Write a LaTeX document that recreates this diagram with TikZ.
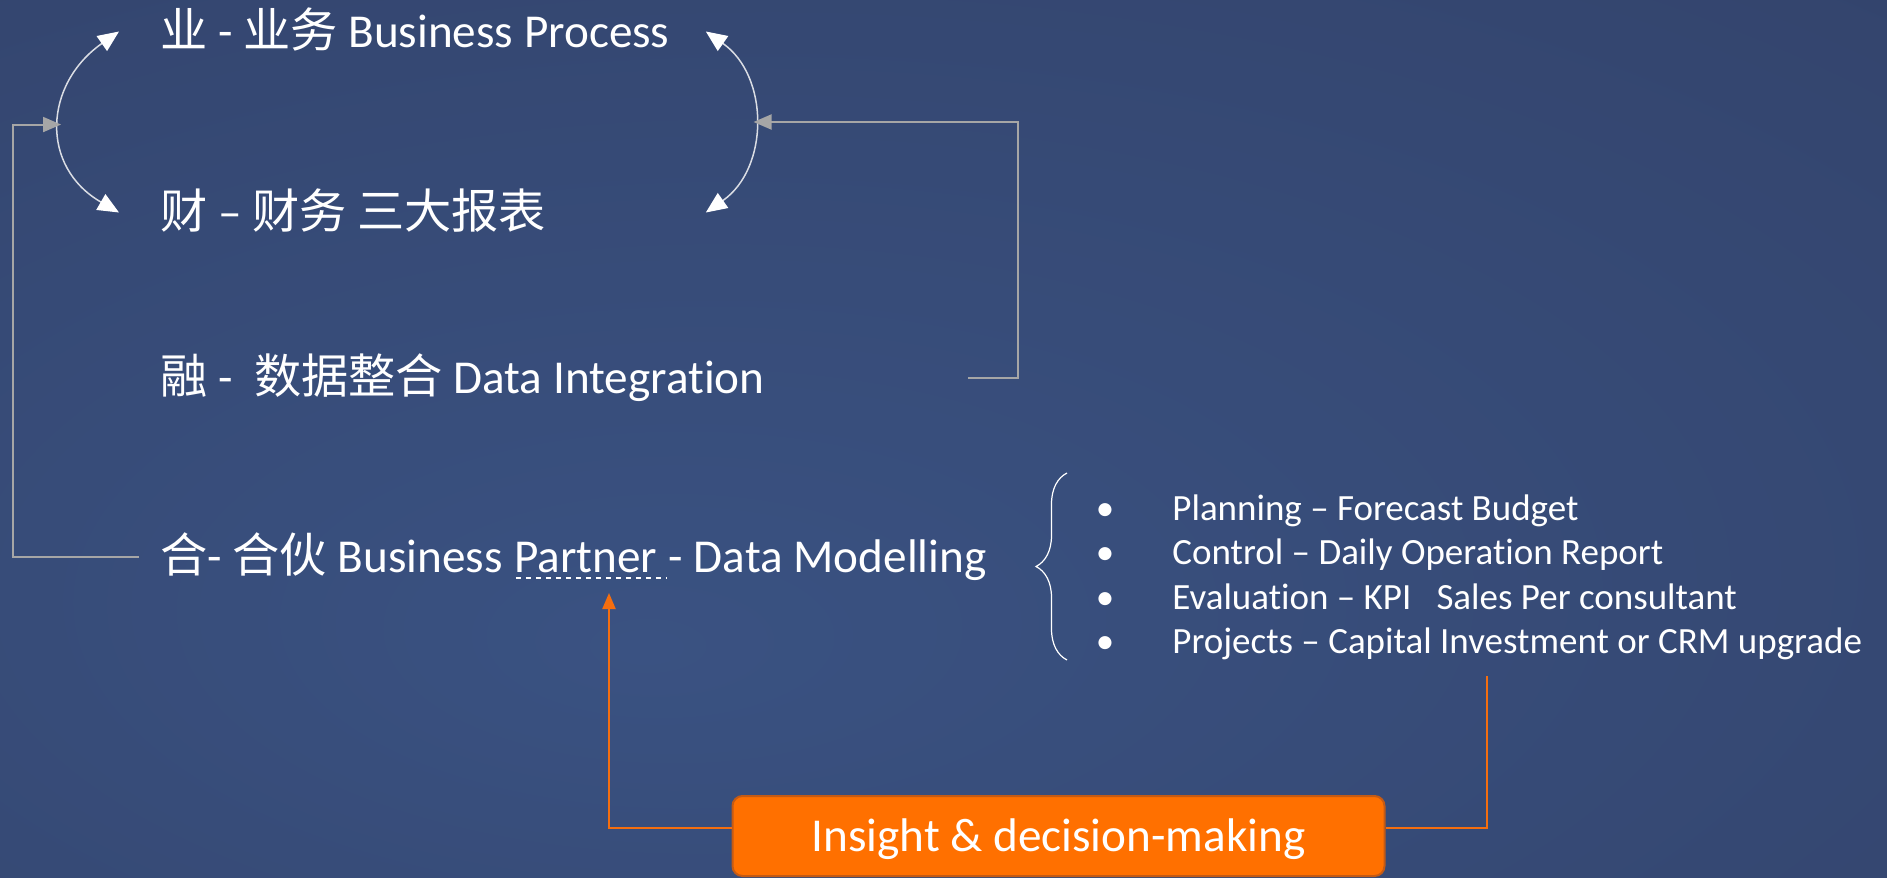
\documentclass[tikz,border=0pt]{standalone}
\usepackage{fontspec}
\setmainfont{Carlito}[Ligatures=NoCommon]
\newfontfamily\cjk{Noto Sans CJK SC}
\usetikzlibrary{arrows.meta,decorations.pathreplacing}
\definecolor{bgin}{RGB}{58,82,130}
\definecolor{bgout}{RGB}{44,53,86}
\definecolor{wiregray}{RGB}{166,166,166}
\definecolor{curvewhite}{RGB}{218,221,228}
\definecolor{orline}{RGB}{245,110,15}
\definecolor{orfill}{RGB}{255,112,0}
\definecolor{oredge}{RGB}{196,90,20}
\pgfdeclareradialshading{slidebg}{\pgfpoint{-8bp}{-12bp}}{color(0bp)=(bgin); color(40bp)=(bgin!55!bgout); color(75bp)=(bgout)}
\begin{document}
\begin{tikzpicture}[x=0.5pt,y=0.5pt]
\tikzstyle{every node}+=[inner sep=0pt, text=white]
\tikzstyle{bigtext}=[anchor=base west, font=\fontsize{23.6}{28}\selectfont, text height=19pt, text depth=3.5pt]
\tikzstyle{listtext}=[anchor=base west, font=\fontsize{18.5}{22}\selectfont]
\tikzstyle{listdot}=[anchor=base, font=\fontsize{18.5}{22}\selectfont]
\tikzstyle{insightbox}=[fill=orfill, draw=oredge, line width=1pt, rounded corners=5pt, minimum width=326pt, minimum height=40pt, font=\fontsize{23.6}{28}\selectfont, text height=15.2pt, text depth=0pt]
\tikzstyle{curvearr}=[draw=curvewhite, line width=0.75pt, {Triangle[length=10.5pt,width=9pt,color=white,fill=white]}-{Triangle[length=10.5pt,width=9pt,color=white,fill=white]}]
\tikzstyle{grayarr}=[draw=wiregray, line width=1pt, -{Triangle[length=9pt,width=7.5pt]}]
\tikzstyle{orangearr}=[draw=orline, line width=1.1pt, -{Triangle[length=8pt,width=6.5pt]}]
\tikzstyle{orangewire}=[draw=orline, line width=1.1pt]
\tikzstyle{dashunder}=[draw=white, line width=1pt, dash pattern=on 2.6pt off 2.4pt]
\tikzstyle{bracestyle}=[draw=white, line width=0.6pt, decorate, decoration={brace, amplitude=15.5pt}]
\shade[shading=slidebg] (0,0) rectangle (1887,-878);
\node[bigtext] (biz) at (160,-47) {{\cjk 业} - {\cjk 业务} Business Process};
\node[bigtext] (fin) at (160,-228) {{\cjk 财} – {\cjk 财务 三大报表}};
\node[bigtext] (dint) at (160,-393) {{\cjk 融} - \ {\cjk 数据整合} Data Integration};
\node[bigtext] (bpart) at (160,-572) {{\cjk 合}- {\cjk 合伙} Business};
\node[bigtext] (partner) at ([xshift=5.34pt]bpart.base east) {Partner};
\node[bigtext] (bmodel) at ([xshift=5.34pt]partner.base east) {- Data Modelling};
\draw[dashunder] ([yshift=-3.2pt,xshift=1pt]partner.base west) -- ([yshift=-3.2pt,xshift=4.5pt]partner.base east);
\foreach \txt [count=\i] in {Planning – Forecast Budget, Control – Daily Operation Report, Evaluation – KPI\ \ \ Sales Per consultant, Projects – Capital Investment or CRM upgrade} {
  \pgfmathsetmacro\yy{-520-44.5*(\i-1)}
  \node[listdot] (dot\i) at (1105,\yy) {\textbullet};
  \node[listtext] (item\i) at (1172,\yy) {\txt};
}
\draw[bracestyle] (1067,-660) -- (1067,-473);
\coordinate (rtop) at ([xshift=18pt]biz.east);
\coordinate (rbot) at (rtop |- fin.east);
\draw[curvearr] ([xshift=-20.5pt]biz.west) to[out=215,in=150,looseness=1.3] coordinate[pos=0.5] (lmid) ([xshift=-20.5pt]fin.west);
\draw[curvearr] (rtop) to[out=-35,in=35,looseness=1.1] coordinate[pos=0.5] (rmid) (rbot);
\draw[grayarr] ([xshift=-10.5pt]bpart.west) -| ([xshift=-24pt]lmid) -- (lmid);
\draw[grayarr] ([xshift=101.5pt]dint.east) -| ([xshift=132pt]rmid) -- (rmid);
\node[insightbox] (insight) at (1058.5,-836) {Insight \& decision-making};
\coordinate (ptip) at (609,-593);
\coordinate (pend) at (1487,-676);
\draw[orangearr] ([yshift=4pt]insight.west) -| (ptip);
\draw[orangewire] ([yshift=4pt]insight.east) -| (pend);
\end{tikzpicture}
\end{document}
